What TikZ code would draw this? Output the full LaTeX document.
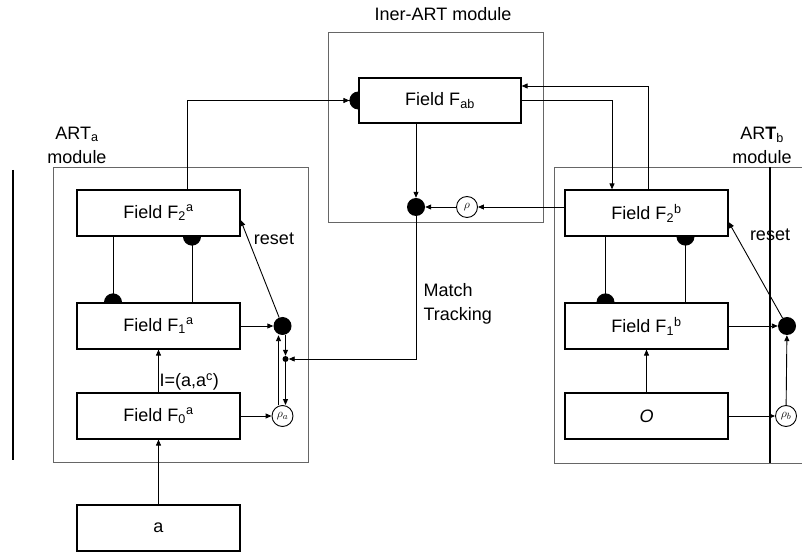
\documentclass[tikz,border=0pt]{standalone}
\usepackage{fontspec}
\setmainfont{Liberation Sans}
\usetikzlibrary{arrows.meta, backgrounds}

\newcommand{\fsub}[2]{F\textsubscript{#1}\textsuperscript{#2}}

\begin{document}
\begin{tikzpicture}[x=1pt, y=1pt, node distance=113pt,
  field/.style={rectangle, draw=black, line width=1.2pt, fill=white, minimum width=163pt, minimum height=46pt, font=\fontsize{18}{21}\selectfont},
  module/.style={draw=black!60, line width=0.8pt},
  junction/.style={circle, fill=black, minimum size=18pt, inner sep=0pt},
  tiny dot/.style={circle, fill=black, minimum size=6pt, inner sep=0pt},
  gain/.style={circle, draw=black, fill=white, line width=0.9pt, minimum size=21pt, inner sep=0pt, font=\fontsize{13}{15}\selectfont},
  arrow/.style={line width=0.9pt, -{Triangle[length=6pt, width=5pt]}},
  inhibit/.style={line width=0.9pt, -{Circle[length=18pt]}, shorten >=-9pt},
  note/.style={font=\fontsize{18}{24}\selectfont, align=center}
]
\useasboundingbox (0,0) rectangle (802,554);

\node (f2a) [field] at (158.5,341) {Field \fsub{2}{a}};
\node (f1a) [field, below of=f2a] {Field \fsub{1}{a}};
\node (f0a) [field, below of=f1a, node distance=90pt] {Field \fsub{0}{a}};
\node (a) [field, below of=f0a, node distance=112pt] {a};
\node (f2b) [field, right of=f2a, node distance=488pt] {Field \fsub{2}{b}};
\node (f1b) [field, below of=f2b] {Field \fsub{1}{b}};
\node (o) [field, below of=f1b, node distance=90pt] {\textit{O}};
\node (fab) [field, minimum width=162pt, minimum height=45pt] at (440,453.5) {Field F\textsubscript{ab}};

\node (ja) [junction, right of=f1a, node distance=124pt] {};
\node (ra) [gain, right of=f0a, node distance=124pt] {$\rho_a$};
\node (jb) [junction, right of=f1b, node distance=140.5pt] {};
\node (rb) [gain, right of=o, node distance=139.5pt] {$\rho_b$};
\node (jab) [junction] at (416,347) {};
\node (rab) [gain] at (467,347) {$\rho$};
\node (mt) [tiny dot] at (285.5,195) {};

\node (intertitle) [note] at (443,540) {Iner-ART module};
\node (atitle) [note] at (77,409) {ART\textsubscript{a}\\module};
\node (btitle) [note] at (762,409) {AR\textbf{T}\textsubscript{b}\\module};
\node (reseta) [note] at (274,315) {reset};
\node (resetb) [note] at (770,319) {reset};
\node (track) [note, anchor=west, align=left] at (420,250) {Match\\Tracking};
\node (input) [note, anchor=west] at (156,172) {I=(a,a\textsuperscript{c})};

\begin{scope}[on background layer]
\draw [module] (328,522) rectangle (543,332);
\draw [module] (53,387) rectangle (308,92);
\draw [module] (802,387) -- (554,387) -- (554,91) -- (802,91);
\draw [line width=1.1pt] (770,387) -- (770,91);
\draw [line width=1.1pt] (13,384) -- (13,94);

% ART a
\draw [arrow] (a) -- (f0a);
\draw [arrow] (f0a) -- (f1a);
\draw [inhibit] ([xshift=-45.5pt]f2a.south) -- ([xshift=-45.5pt]f1a.north);
\draw [inhibit] ([xshift=33.5pt]f1a.north) -- ([xshift=33.5pt]f2a.south);
\draw [arrow] (f1a) -- (ja);
\draw [arrow] (f0a) -- (ra);
\draw [arrow] (ja) -- ([yshift=-7pt]f2a.east);
\draw [arrow] ([xshift=-4pt]ra.north) -- ([xshift=-4pt]ja.south);
\draw [arrow] ([xshift=3pt]ja.south) -- (mt.north);
\draw [arrow] (mt) -- (mt |- ra.north);

% inter-ART
\draw [line width=0.9pt, -{Triangle[length=6pt, width=5pt] Circle[length=18pt]}, shorten >=-9pt] ([xshift=28.5pt]f2a.north) |- (fab.west);
\draw [arrow] ([xshift=1.5pt]f2b.north) |- ([yshift=14.5pt]fab.east);
\draw [arrow] (fab.east) -| ([xshift=-34.5pt]f2b.north);
\draw [arrow] (fab.south -| jab) -- (jab);
\draw [arrow] (f2b.west |- rab) -- (rab);
\draw [arrow] (rab) -- (jab);
\draw [arrow] (jab) |- (mt);

% ART b
\draw [inhibit] ([xshift=-41pt]f2b.south) -- ([xshift=-41pt]f1b.north);
\draw [inhibit] ([xshift=39pt]f1b.north) -- ([xshift=39pt]f2b.south);
\draw [arrow] (o) -- (f1b);
\draw [arrow] (f1b) -- (jb);
\draw [arrow] (o) -- (rb);
\draw [arrow] (rb) -- (jb);
\draw [arrow] (jb) -- ([yshift=-9pt]f2b.east);
\end{scope}

\end{tikzpicture}
\end{document}
